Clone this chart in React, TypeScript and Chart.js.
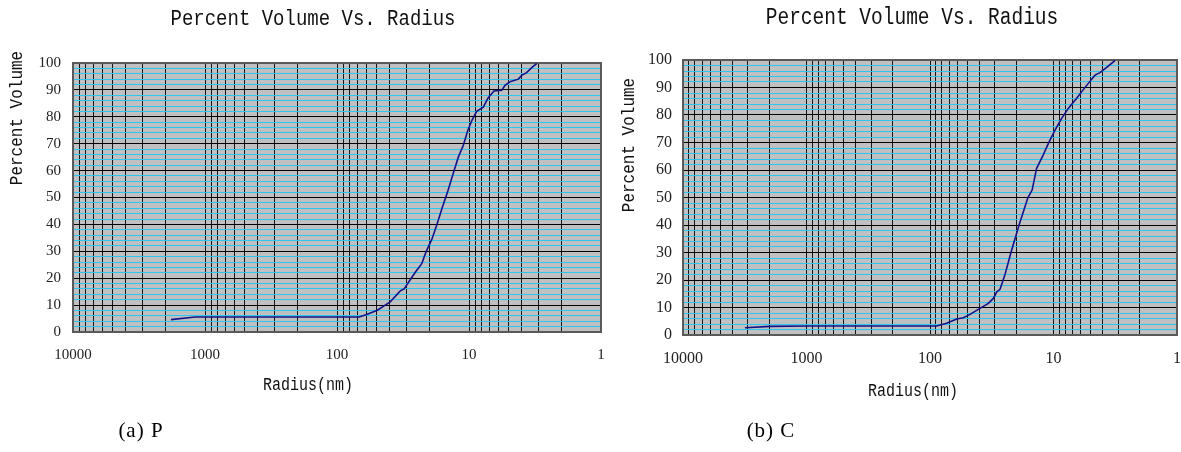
import React, { useEffect, useRef } from 'react';
import { Chart, registerables } from 'chart.js';

Chart.register(...registerables);

// ---- data ----
const radiusP = [1811, 1190, 1000, 500, 200, 100, 68, 59.6, 49.5, 39.5, 33.3, 30.9, 28.8, 25.6, 22.8, 21.2, 19.1, 17.5, 16.0, 14.4, 13.3, 12.05, 11.04, 10.2, 9.5, 8.75, 7.8, 7.15, 6.47, 5.65, 5.33, 4.89, 4.23, 3.99, 3.66, 3.35, 3.07];
const volumeP = [4.6, 5.6, 5.6, 5.6, 5.6, 5.6, 5.6, 6.5, 8.1, 11.2, 15.2, 16.1, 18.4, 22.1, 25.4, 29.7, 34.5, 40, 46, 52.7, 58.3, 65, 69.4, 75, 78.7, 82, 83.6, 87.1, 89.6, 89.9, 91.7, 93, 94, 95.4, 96.4, 98.3, 99.8];

const radiusC = [3150, 1975, 1000, 500, 200, 88.3, 73.3, 60.8, 53.7, 47.4, 39.4, 33.7, 30.7, 28.8, 27.1, 24.7, 22.1, 19.0, 16.1, 14.9, 13.7, 12.1, 11.0, 9.72, 8.59, 7.59, 6.49, 5.91, 5.23, 4.61, 4.2, 3.71, 3.18];
const volumeC = [2.65, 3.15, 3.25, 3.27, 3.27, 3.27, 4.25, 5.8, 6.3, 7.5, 9.7, 11.5, 13.3, 15.7, 16.6, 22, 30, 40, 50, 52.7, 60.6, 65.5, 69.7, 74.5, 78.8, 82.4, 86.1, 88.5, 91.5, 94.5, 95.4, 97.3, 99.8];

const decades = [10000, 1000, 100, 10, 1];
const xTickLabels = ['10000', '1000', '100', '10', '1'];
const minorMultipliers = [2, 3, 4, 5, 6, 7, 8, 9];
const yTickLabels = ['0', '10', '20', '30', '40', '50', '60', '70', '80', '90', '100'];
const yMinorStep = 2;

const chartTitle = 'Percent Volume Vs. Radius';
const xAxisTitle = 'Radius(nm)';
const yAxisTitle = 'Percent Volume';
const captions = ['(a) P', '(b) C'];

type Panel = {
  id: string;
  left: number;
  width: number;
  radius: number[];
  volume: number[];
  padTop: number;
  padRight: number;
  yAxisWidth: number;
  xAxisHeight: number;
  tickSize: number;
  yTickPad: number;
  xTickPad: number;
  titleX: number; titleY: number; titleSize: number;
  yTitleX: number; yTitleY: number; yTitleSize: number;
  xTitleX: number; xTitleY: number; xTitleSize: number;
};

const panels: Panel[] = [
  {
    id: 'P', left: 0, width: 620, radius: radiusP, volume: volumeP,
    padTop: 63, padRight: 19, yAxisWidth: 73, xAxisHeight: 120,
    tickSize: 15, yTickPad: 12, xTickPad: 14,
    titleX: 313, titleY: 19, titleSize: 19,
    yTitleX: 17, yTitleY: 118, yTitleSize: 16,
    xTitleX: 308, xTitleY: 385, xTitleSize: 15,
  },
  {
    id: 'C', left: 620, width: 561, radius: radiusC, volume: volumeC,
    padTop: 60, padRight: 4, yAxisWidth: 63, xAxisHeight: 117,
    tickSize: 16, yTickPad: 11, xTickPad: 14,
    titleX: 292, titleY: 18, titleSize: 19.5,
    yTitleX: 9, yTitleY: 145, yTitleSize: 16,
    xTitleX: 293, xTitleY: 391, xTitleSize: 15,
  },
];

const TEXT_STRETCH = 1.18;

function xGridValues(): number[] {
  const vals: number[] = [];
  decades.forEach((d) => {
    vals.push(d);
    if (d < 10000) minorMultipliers.forEach((m) => vals.push(d * m));
  });
  return vals.sort((a, b) => b - a);
}

function yGridValues(): number[] {
  const vals: number[] = [];
  for (let v = 0; v <= 100; v += yMinorStep) vals.push(v);
  return vals;
}

function stretchedText(ctx: CanvasRenderingContext2D, text: string, x: number, y: number, rotate: boolean) {
  ctx.save();
  ctx.translate(x, y);
  if (rotate) ctx.rotate(-Math.PI / 2);
  ctx.scale(1, TEXT_STRETCH);
  ctx.fillText(text, 0, 0);
  ctx.restore();
}

function panelPlugin(p: Panel) {
  return {
    id: 'panel' + p.id,
    beforeDraw(chart: any) {
      const { ctx, chartArea: a } = chart;
      ctx.save();
      ctx.fillStyle = '#c0c0c0';
      ctx.fillRect(a.left, a.top, a.right - a.left, a.bottom - a.top);
      ctx.restore();
    },
    beforeDatasetsDraw(chart: any) {
      const { ctx, chartArea: a } = chart;
      ctx.save();
      ctx.strokeStyle = '#5a5a5a';
      ctx.lineWidth = 2;
      ctx.strokeRect(a.left, a.top, a.right - a.left, a.bottom - a.top);
      ctx.restore();
    },
    afterDraw(chart: any) {
      const { ctx } = chart;
      ctx.save();
      ctx.fillStyle = '#111';
      ctx.textAlign = 'center';
      ctx.textBaseline = 'middle';
      ctx.font = `${p.titleSize}px "Liberation Mono"`;
      stretchedText(ctx, chartTitle, p.titleX, p.titleY, false);
      ctx.font = `${p.xTitleSize}px "Liberation Mono"`;
      stretchedText(ctx, xAxisTitle, p.xTitleX, p.xTitleY, false);
      ctx.font = `${p.yTitleSize}px "Liberation Mono"`;
      stretchedText(ctx, yAxisTitle, p.yTitleX, p.yTitleY, true);
      ctx.restore();
    },
  };
}

function PanelChart({ p }: { p: Panel }) {
  const ref = useRef<HTMLCanvasElement>(null);
  useEffect(() => {
    if (!ref.current) return;
    const gx = xGridValues();
    const gy = yGridValues();
    const chart = new Chart(ref.current, {
      type: 'line',
      data: {
        datasets: [
          {
            data: p.radius.map((r, i) => ({ x: r, y: p.volume[i] })),
            borderColor: '#12128a',
            borderWidth: 1.6,
            pointRadius: 0,
            fill: false,
            tension: 0,
          },
        ],
      },
      options: {
        animation: false,
        responsive: false,
        devicePixelRatio: 1,
        parsing: false as any,
        layout: { padding: { left: 0, right: p.padRight, top: p.padTop, bottom: 0 } },
        plugins: { legend: { display: false }, tooltip: { enabled: false }, title: { display: false } },
        scales: {
          x: {
            type: 'logarithmic',
            min: 1,
            max: 10000,
            reverse: true,
            z: 0,
            afterBuildTicks: (s: any) => {
              s.ticks = gx.map((v) => ({ value: v }));
            },
            afterFit: (s: any) => {
              s.height = p.xAxisHeight;
              s.paddingLeft = 0;
              s.paddingRight = 0;
            },
            grid: { color: '#151515', lineWidth: 1, drawTicks: false },
            border: { display: false },
            ticks: {
              autoSkip: false,
              maxRotation: 0,
              minRotation: 0,
              padding: p.xTickPad,
              color: '#222',
              font: { family: 'Liberation Serif', size: p.tickSize },
              callback: (v: any) => {
                const i = decades.indexOf(Number(v));
                return i >= 0 ? xTickLabels[i] : '';
              },
            },
          },
          y: {
            type: 'linear',
            min: 0,
            max: 100,
            z: -1,
            afterBuildTicks: (s: any) => {
              s.ticks = gy.map((v) => ({ value: v }));
            },
            afterFit: (s: any) => {
              s.width = p.yAxisWidth;
              s.paddingTop = 0;
              s.paddingBottom = 0;
            },
            grid: {
              color: (c: any) => (c.tick && c.tick.value % 10 === 0 ? '#000' : '#2cc6f2'),
              lineWidth: 1,
              drawTicks: false,
            },
            border: { display: false },
            ticks: {
              autoSkip: false,
              padding: p.yTickPad,
              color: '#222',
              font: { family: 'Liberation Serif', size: p.tickSize },
              callback: (v: any) => (Number(v) % 10 === 0 ? yTickLabels[Number(v) / 10] : ''),
            },
          },
        },
      } as any,
      plugins: [panelPlugin(p)],
    });
    return () => chart.destroy();
  }, [p]);
  return (
    <canvas
      ref={ref}
      width={p.width}
      height={452}
      style={{ position: 'absolute', left: p.left, top: 0, width: p.width, height: 452 }}
    />
  );
}

export default function App() {
  return (
    <div style={{ position: 'absolute', left: 0, top: 0, width: 1181, height: 452, background: '#fff', overflow: 'hidden' }}>
      {panels.map((p) => (
        <PanelChart key={p.id} p={p} />
      ))}
      {captions.map((c, i) => (
        <div
          key={c}
          style={{
            position: 'absolute',
            left: i === 0 ? 81 : 711,
            width: 120,
            top: 417,
            textAlign: 'center',
            fontFamily: '"Liberation Serif"',
            fontSize: 21,
            letterSpacing: '1px',
            lineHeight: '26px',
            color: '#000',
            whiteSpace: 'pre',
          }}
        >
          {c}
        </div>
      ))}
    </div>
  );
}
